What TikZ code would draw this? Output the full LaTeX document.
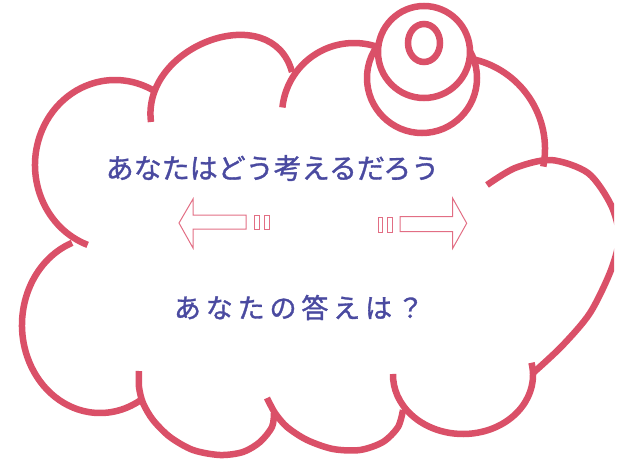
\documentclass[tikz,border=0pt]{standalone}
\usepackage{fontspec}
\newfontfamily\jpfont[FakeBold=1.2]{Noto Sans CJK JP}
\newfontfamily\jpwidefont[FakeBold=1.2, LetterSpace=18]{Noto Sans CJK JP}
\definecolor{cloudred}{RGB}{218,80,104}
\definecolor{arrowred}{RGB}{226,110,132}
\definecolor{textblue}{RGB}{74,74,160}
\tikzset{
    puff/.style={draw=cloudred, line width=6.5pt},
    hollowarrow/.style={draw=arrowred, line width=1pt},
    question/.style={text=textblue, inner sep=0pt}
}
\begin{document}
\begin{tikzpicture}[x=1pt, y=-1pt]
            \useasboundingbox (0,0) rectangle (621,458);
            \clip (0,0) rectangle (614,458);
            \draw[puff] (115,165) ++(110:80 and 85) arc[start angle=110, end angle=298, x radius=80, y radius=85];
            \draw[puff] (151,122) .. controls (141,45) and (272,-2) .. (292,72);
            \draw[puff] (354,115) ++(186:72) arc[start angle=186, end angle=287, radius=72];
            \draw[puff] (453,149) ++(-79:92) arc[start angle=-79, end angle=11, radius=92];
            \draw[puff] plot[smooth] coordinates {(487,185) (515,168) (551,160) (588,173) (611,205) (619,237) (611,270) (590,313) (562,346) (533,373)};
            \draw[puff] (463,375) ++(-12:70 and 59) arc[start angle=-12, end angle=181, x radius=70, y radius=59];
            \draw[puff] plot[smooth] coordinates {(267,398) (275,413) (287,427) (307,440) (333,449) (360,450) (383,442) (398,427) (403,410)};
            \draw[puff] plot[smooth] coordinates {(139,371) (139,387) (143,403) (153,420) (170,437) (193,450) (220,455) (243,452) (260,442) (272,427) (274,413)};
            \draw[puff] (100,325) ++(249:78 and 88) arc[start angle=249, end angle=59, x radius=78, y radius=88];
            \draw[puff] (422,78) circle[radius=55];
            \draw[puff, fill=white] (424,52) circle[radius=46];
            \draw[puff] (424,43) ellipse[x radius=16, y radius=19];
            \node[question] (think) at (272.5,168) {\jpfont\fontsize{28}{32}\selectfont あなたはどう考えるだろう};
            \node[question] (answer) at (299,307.5) {\jpwidefont\fontsize{27}{31}\selectfont あなたの答えは？};
            \draw[hollowarrow] (179,223) -- (193,199) -- (193,215) -- (246,215) -- (246,229) -- (193,229) -- (193,248) -- cycle;
            \draw[hollowarrow] (466.7,223.3) -- (452.7,198.3) -- (452.7,216.7) -- (400,216.7) -- (400,231.7) -- (452.7,231.7) -- (452.7,248.3) -- cycle;
            \foreach \x in {254,264} {
                    \draw[hollowarrow] (\x,215) rectangle ++(5,14);
                }
            \foreach \x in {378,387.5} {
                    \draw[hollowarrow] (\x,217) rectangle ++(4.5,15);
                }
        \end{tikzpicture}
\end{document}
